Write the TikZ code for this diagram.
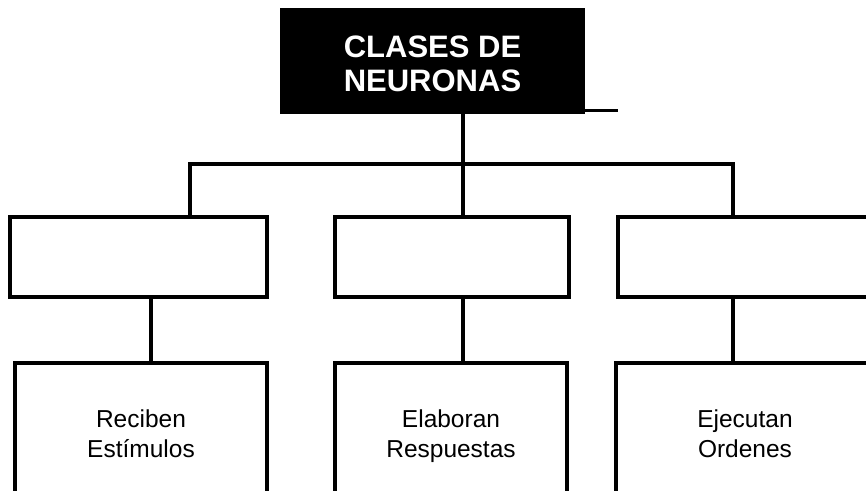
\documentclass[tikz,border=0pt]{standalone}
\usepackage{fontspec}
\setmainfont{Liberation Sans}
\begin{document}
\begin{tikzpicture}[x=1pt,y=-1pt,
  every path/.style={line width=3.3pt, line join=miter},
  titlebox/.style={fill=black, text=white, inner sep=0pt, outer sep=0pt, align=center,
    font=\bfseries\fontsize{31}{34}\selectfont, minimum width=305pt, minimum height=106pt},
  upbox/.style={draw, line width=3.3pt, inner sep=0pt, outer sep=0pt, minimum height=80pt},
  lowbox/.style={draw, line width=3.3pt, inner sep=0pt, outer sep=0pt, minimum height=147pt, align=center,
    font=\fontsize{24.5}{30}\selectfont}]
\useasboundingbox (0,0) rectangle (866,490);
% title
\node[titlebox] (title) at (432.5,61) {\rule{0pt}{27.5pt}CLASES DE\\NEURONAS};
% upper boxes
\node[upbox, minimum width=257pt] (b1) at (138.5,257) {};
\node[upbox, minimum width=234pt] (b2) at (452,257) {};
\node[upbox, minimum width=256pt] (b3) at (746,257) {};
% lower boxes
\node[lowbox, minimum width=252pt] (c1) at (141,436.5) {Reciben\\Estímulos\vphantom{p}};
\node[lowbox, minimum width=232pt] (c2) at (451,436.5) {Elaboran\\Respuestas};
\node[lowbox, minimum width=258pt] (c3) at (745,436.5) {Ejecutan\\Ordenes\vphantom{p}};
% junction coordinates
\coordinate (stub) at (618,110);
\coordinate (j0) at (463,164);
\coordinate (j1) at (190,164);
\coordinate (j3) at (733,164);
\coordinate (v1) at (151,330);
\coordinate (v2) at (463,330);
\coordinate (v3) at (733,330);
% connectors
\draw[line width=3pt] (title.east |- stub) -- (stub);
\draw (title.south -| j0) -- (j0);
\draw (b1.north -| j1) -- (j1) -- (j3) -- (b3.north -| j3);
\draw (j0) -- (b2.north -| j0);
\draw (b1.south -| v1) -- (c1.north -| v1);
\draw (b2.south -| v2) -- (c2.north -| v2);
\draw (b3.south -| v3) -- (c3.north -| v3);
\end{tikzpicture}
\end{document}
